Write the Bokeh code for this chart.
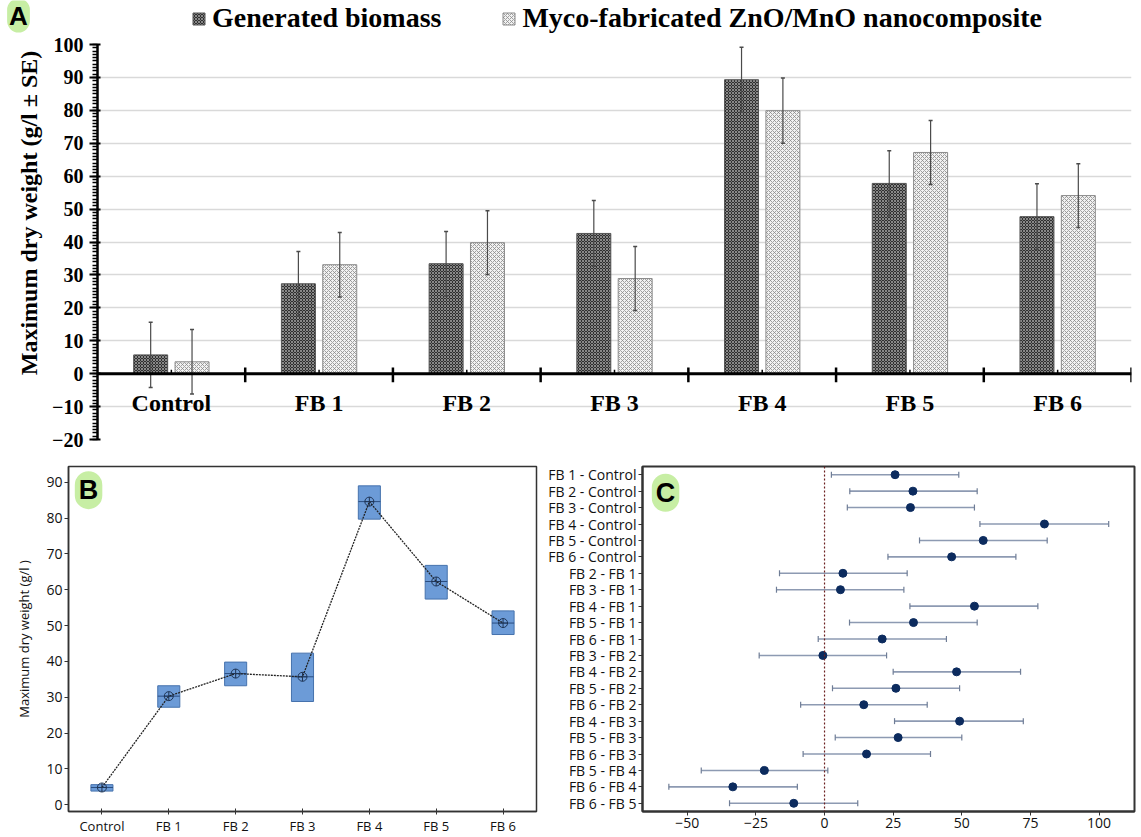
import numpy as np
from bokeh.plotting import figure
from bokeh.models import (ColumnDataSource, FactorRange, Range1d, SingleIntervalTicker,
                          FixedTicker, Span, Label, Legend, LegendItem)
from bokeh.transform import dodge
from bokeh.layouts import column, row
from bokeh.embed import file_html
from bokeh.resources import INLINE
from bokeh.core.properties import value

# ---------------- data ----------------
categories = ["Control", "FB 1", "FB 2", "FB 3", "FB 4", "FB 5", "FB 6"]
series_names = ["Generated biomass", "Myco-fabricated ZnO/MnO nanocomposite"]
# Panel A
biomass = [5.7, 27.3, 33.4, 42.6, 89.3, 57.8, 47.7]
biomass_se = [9.9, 9.8, 9.8, 10.0, 9.9, 9.9, 10.0]
nanocomposite = [3.6, 33.1, 39.8, 28.9, 79.9, 67.2, 54.1]
nanocomposite_se = [9.8, 9.8, 9.7, 9.7, 9.9, 9.7, 9.7]
# Panel B (interval plot)
b_mean = [4.8, 30.3, 36.6, 35.7, 84.6, 62.3, 50.7]
b_low = [3.8, 27.2, 33.2, 28.8, 79.7, 57.4, 47.5]
b_high = [5.6, 33.2, 39.8, 42.3, 89.0, 66.8, 54.1]
# Panel C (Tukey simultaneous CIs)
comparisons = ["FB 1 - Control", "FB 2 - Control", "FB 3 - Control", "FB 4 - Control",
               "FB 5 - Control", "FB 6 - Control", "FB 2 - FB 1", "FB 3 - FB 1",
               "FB 4 - FB 1", "FB 5 - FB 1", "FB 6 - FB 1", "FB 3 - FB 2",
               "FB 4 - FB 2", "FB 5 - FB 2", "FB 6 - FB 2", "FB 4 - FB 3",
               "FB 5 - FB 3", "FB 6 - FB 3", "FB 5 - FB 4", "FB 6 - FB 4", "FB 6 - FB 5"]
c_diff = [25.7, 32.2, 31.3, 80.1, 57.8, 46.3, 6.7, 5.8, 54.6, 32.4, 21.0, -0.6,
          48.1, 26.0, 14.3, 49.2, 26.8, 15.3, -21.9, -33.4, -11.2]
c_low = [2.5, 9.2, 8.3, 56.6, 34.6, 23.1, -16.4, -17.5, 31.1, 9.1, -2.3, -23.8,
         25.0, 2.9, -8.7, 25.5, 3.9, -7.8, -44.9, -56.7, -34.6]
c_high = [48.9, 55.6, 54.6, 103.5, 81.1, 69.7, 30.1, 28.9, 77.7, 55.6, 44.4, 22.6,
          71.4, 49.2, 37.4, 72.4, 50.0, 38.6, 1.2, -9.9, 12.1]

SERIF = "Liberation Serif"
SANS = "Open Sans"

GEN_STYLE = dict(fill_color="#2f2f2f", line_color="#555555", line_width=1,
                 hatch_pattern="diagonal_cross", hatch_color="#a0a0a0",
                 hatch_scale=3, hatch_weight=0.8)
NANO_STYLE = dict(fill_color="#f2f2f2", line_color="#8a8a8a", line_width=1,
                  hatch_pattern="diagonal_cross", hatch_color="#8c8c8c",
                  hatch_scale=4, hatch_weight=0.8)
GLOW = dict(text_align="center", text_baseline="middle", text_font="Liberation Sans",
            text_font_style="bold", text_color="black", background_fill_color="#bdeb94",
            background_fill_alpha=0.85, border_radius=14)


def blank(width, height):
    f = figure(width=width, height=height, x_range=Range1d(0, width),
               y_range=Range1d(0, height), output_backend="svg", toolbar_location=None,
               x_axis_location=None, y_axis_location=None,
               min_border_left=0, min_border_right=0, min_border_top=0, min_border_bottom=0)
    f.grid.grid_line_color = None
    f.outline_line_color = None
    return f


# ---------------- legend strip ----------------
pL = blank(1141, 34)
dummy = ColumnDataSource(dict(x=[-100], top=[-100]))
lg1 = pL.vbar(x="x", top="top", width=1, source=dummy, **GEN_STYLE)
lg2 = pL.vbar(x="x", top="top", width=1, source=dummy, **NANO_STYLE)
legA = Legend(items=[LegendItem(label=series_names[0], renderers=[lg1]),
                     LegendItem(label=series_names[1], renderers=[lg2])],
              orientation="horizontal", location=(191, 0), label_text_font=SERIF,
              label_text_font_style="bold", label_text_font_size="28px",
              label_text_color="black", glyph_width=15, glyph_height=15, spacing=60,
              padding=2, margin=0, border_line_color=None, background_fill_alpha=0,
              label_standoff=6, label_height=30)
pL.add_layout(legA)
pL.add_layout(Label(x=18, y=19, text="A", text_font_size="26px", padding=2, **GLOW))

# ---------------- y-axis title strip for panel A ----------------
pT = blank(44, 422)
pT.add_layout(Label(x=28, y=242, text="Maximum dry weight (g/l ± SE)", angle=np.pi / 2,
                    text_align="center", text_baseline="middle", text_font=SERIF,
                    text_font_style="bold", text_font_size="24px", text_color="black"))

# ---------------- Panel A ----------------
srcA = ColumnDataSource(dict(
    cat=categories,
    gen=biomass, gen_lo=[v - s for v, s in zip(biomass, biomass_se)],
    gen_hi=[v + s for v, s in zip(biomass, biomass_se)],
    nano=nanocomposite, nano_lo=[v - s for v, s in zip(nanocomposite, nanocomposite_se)],
    nano_hi=[v + s for v, s in zip(nanocomposite, nanocomposite_se)],
))

pA = figure(width=1097, height=422, x_range=FactorRange(*categories, range_padding=0),
            y_range=Range1d(-20, 100), output_backend="svg", toolbar_location=None,
            min_border_left=53, min_border_right=10, min_border_top=10, min_border_bottom=17)
pA.xaxis.visible = False
pA.outline_line_color = None
pA.xgrid.grid_line_color = None
pA.ygrid.grid_line_color = "#d9d9d9"
pA.ygrid.grid_line_width = 1.5

ya = pA.yaxis[0]
ya.ticker = SingleIntervalTicker(interval=10, num_minor_ticks=10)
ya.axis_line_width = 2.5
ya.axis_line_color = "black"
ya.major_tick_line_width = 2
ya.major_tick_in = 3
ya.major_tick_out = 8
ya.minor_tick_in = 0
ya.minor_tick_out = 5
ya.minor_tick_line_width = 1.3
ya.major_label_text_font = SERIF
ya.major_label_text_font_style = "bold"
ya.major_label_text_font_size = "20px"
ya.major_label_text_color = "black"
ya.major_label_standoff = 6

off = 0.14
bw = 0.23
pA.vbar(x=dodge("cat", -off, range=pA.x_range), top="gen", width=bw, source=srcA, **GEN_STYLE)
pA.vbar(x=dodge("cat", off, range=pA.x_range), top="nano", width=bw, source=srcA, **NANO_STYLE)

for key, o in (("gen", -off), ("nano", off)):
    xs = dodge("cat", o, range=pA.x_range)
    pA.segment(x0=xs, y0=key + "_lo", x1=xs, y1=key + "_hi", source=srcA,
               line_color="#4a4a4a", line_width=1.2)
    pA.scatter(x=xs, y=key + "_hi", source=srcA, marker="dash", size=4,
               line_color="#4a4a4a", line_width=1.5)
    pA.scatter(x=xs, y=key + "_lo", source=srcA, marker="dash", size=4,
               line_color="#4a4a4a", line_width=1.5)

pA.add_layout(Span(location=0, dimension="width", line_color="black", line_width=3))
xb = dodge("cat", 0.5, range=pA.x_range)
pA.segment(x0=xb, y0=-2.6, x1=xb, y1=1.9, source=srcA, line_color="black", line_width=2.5)
pA.segment(x0="cat", y0=0, x1="cat", y1=1.2, source=srcA, line_color="black", line_width=1.5)
pA.text(x="cat", y=-8.8, text="cat", source=srcA, text_align="center",
        text_baseline="middle", text_font=value(SERIF), text_font_style="bold",
        text_font_size="24px", text_color="black")

# ---------------- Panel B ----------------
srcB = ColumnDataSource(dict(cat=categories, mean=b_mean, low=b_low, high=b_high))
pB = figure(width=540, height=381, x_range=FactorRange(*categories, range_padding=0),
            y_range=Range1d(-1.9, 94.4), output_backend="svg", toolbar_location=None,
            min_border_left=68, min_border_right=4, min_border_top=10, min_border_bottom=0)
pB.grid.grid_line_color = None
pB.outline_line_color = "#333333"
pB.outline_line_width = 1.5
pB.yaxis.ticker = FixedTicker(ticks=list(range(0, 100, 10)))
for ax in (pB.xaxis[0], pB.yaxis[0]):
    ax.axis_line_color = "#333333"
    ax.axis_line_width = 1.5
    ax.major_tick_line_color = "#333333"
    ax.major_tick_in = 0
    ax.major_tick_out = 4
    ax.minor_tick_line_color = None
    ax.major_label_text_font = SANS
    ax.major_label_text_font_size = "13px"
    ax.major_label_text_color = "#111111"
    ax.major_label_standoff = 2
pB.yaxis.major_label_text_font_size = "14px"
pB.xaxis.major_tick_in = 3
pB.xaxis.major_tick_out = 3
pB.yaxis.axis_label = "Maximum dry weight (g/l )"
pB.yaxis.axis_label_text_font = SANS
pB.yaxis.axis_label_text_font_style = "normal"
pB.yaxis.axis_label_text_font_size = "13px"
pB.yaxis.axis_label_text_color = "#111111"
pB.yaxis.axis_label_standoff = 10

pB.vbar(x="cat", bottom="low", top="high", width=0.33, source=srcB,
        fill_color="#6c9bd7", line_color="#4672ad", line_width=1)
hw = 0.165
pB.segment(x0=dodge("cat", -hw, range=pB.x_range), y0="mean",
           x1=dodge("cat", hw, range=pB.x_range), y1="mean", source=srcB,
           line_color="#2a4d80", line_width=1)
pB.line(x="cat", y="mean", source=srcB, line_color="#222222", line_width=1.3, line_dash="2 1")
pB.scatter(x="cat", y="mean", source=srcB, marker="circle_cross", size=9,
           fill_alpha=0, line_color="#1f3556", line_width=1)
pB.add_layout(Label(x=0.3, y=87.8, text="B", text_font_size="27px", padding=4, **GLOW))

# ---------------- Panel C ----------------
srcC = ColumnDataSource(dict(comp=comparisons, diff=c_diff, low=c_low, high=c_high))
pC = figure(width=601, height=381, y_range=FactorRange(*reversed(comparisons), range_padding=0),
            x_range=Range1d(-66.3, 112.9), output_backend="svg", toolbar_location=None,
            min_border_left=102, min_border_right=7, min_border_top=8, min_border_bottom=0)
pC.grid.grid_line_color = None
pC.outline_line_color = "#333333"
pC.outline_line_width = 2
pC.xaxis.ticker = FixedTicker(ticks=[-50, -25, 0, 25, 50, 75, 100])
for ax in (pC.xaxis[0], pC.yaxis[0]):
    ax.axis_line_color = "#333333"
    ax.axis_line_width = 2
    ax.major_tick_line_color = "#333333"
    ax.major_tick_in = 0
    ax.major_tick_out = 4
    ax.minor_tick_line_color = None
    ax.major_label_text_font = SANS
    ax.major_label_text_font_size = "14px"
    ax.major_label_text_color = "#111111"
    ax.major_label_standoff = 2

pC.add_layout(Span(location=0, dimension="height", line_color="#6b1f1f", line_width=1.2,
                   line_dash="2 2"))
pC.segment(x0="low", y0="comp", x1="high", y1="comp", source=srcC,
           line_color="#8d9ab2", line_width=1.6)
pC.scatter(x="low", y="comp", source=srcC, marker="dash", angle=np.pi / 2, size=6,
           line_color="#6f7d96", line_width=1.2)
pC.scatter(x="high", y="comp", source=srcC, marker="dash", angle=np.pi / 2, size=6,
           line_color="#6f7d96", line_width=1.2)
pC.scatter(x="diff", y="comp", source=srcC, marker="circle", size=8,
           fill_color="#0c2b5e", line_color="#0c2b5e")
pC.add_layout(Label(x=-57.9, y=19.4, text="C", text_font_size="27px", padding=4, **GLOW))

layout = column(row(pL), row(pT, pA), row(pB, pC))
open("out.html", "w").write(file_html(layout, INLINE))
